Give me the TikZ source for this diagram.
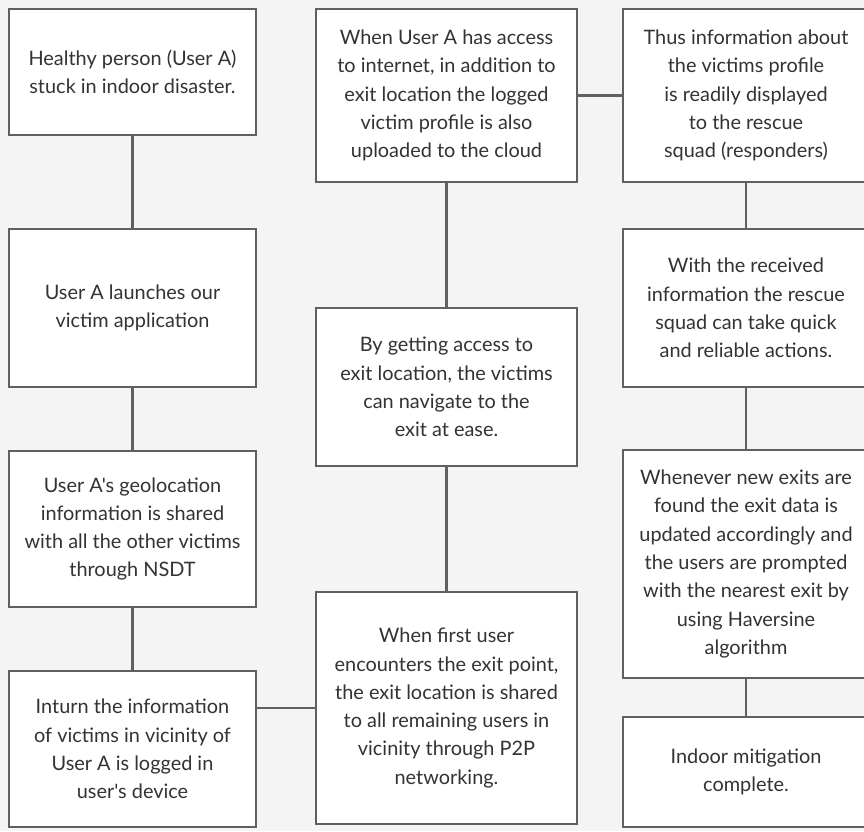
\documentclass[tikz,border=0pt]{standalone}
\usepackage{fontspec}
\setmainfont{Lato}[Ligatures=TeXOff]
\definecolor{bgc}{HTML}{F4F4F4}
\definecolor{edge}{HTML}{606060}
\definecolor{txt}{HTML}{333333}
\begin{document}
\begin{tikzpicture}[x=1pt,y=-1pt,
  box/.style={draw=edge, line width=2.2pt, fill=white, rectangle, inner sep=0pt, outer sep=0pt,
    align=center, text=txt, font=\fontsize{19.9}{28.3}\selectfont},
  link/.style={draw=edge, line width=2.2pt}]
\useasboundingbox (0,0) rectangle (864,831);
\fill[bgc] (0,0) rectangle (864,831);
% column 1
\node[box, minimum width=247pt, minimum height=126pt] (c1a) at (132.5,72) {Healthy person (User A)\\stuck in indoor disaster.};
\node[box, minimum width=247pt, minimum height=158pt] (c1b) at (132.5,308) {User A launches our\\victim application};
\node[box, minimum width=247pt, minimum height=156pt] (c1c) at (132.5,529) {User A's geolocation\\information is shared\\with all the other victims\\through NSDT};
\node[box, minimum width=247pt, minimum height=156pt] (c1d) at (132.5,749) {Inturn the information\\of victims in vicinity of\\User A is logged in\\user's device};
% column 2
\node[box, minimum width=261pt, minimum height=173pt] (c2a) at (446.5,95.5) {When User A has access\\to internet, in addition to\\exit location the logged\\victim profile is also\\uploaded to the cloud};
\node[box, minimum width=261pt, minimum height=158pt] (c2b) at (446.5,387) {By getting access to\\exit location, the victims\\can navigate to the\\exit at ease.};
\node[box, minimum width=261pt, minimum height=232pt] (c2c) at (446.5,708) {When first user\\encounters the exit point,\\the exit location is shared\\to all remaining users in\\vicinity through P2P\\networking.};
% column 3
\node[box, minimum width=246pt, minimum height=173pt] (c3a) at (746,95.5) {Thus information about\\the victims profile\\is readily displayed\\to the rescue\\squad (responders)};
\node[box, minimum width=246pt, minimum height=158pt] (c3b) at (746,308) {With the received\\information the rescue\\squad can take quick\\and reliable actions.};
\node[box, minimum width=246pt, minimum height=228pt] (c3c) at (746,564) {Whenever new exits are\\found the exit data is\\updated accordingly and\\the users are prompted\\with the nearest exit by\\using Haversine\\algorithm};
\node[box, minimum width=246pt, minimum height=110pt] (c3d) at (746,772) {Indoor mitigation\\complete.};
% connectors
\draw[link] (c1a.south) -- (c1b.north);
\draw[link] (c1b.south) -- (c1c.north);
\draw[link] (c1c.south) -- (c1d.north);
\draw[link] (c1d.east |- c2c.west) -- (c2c.west);
\draw[link] (c2c.north) -- (c2b.south);
\draw[link] (c2b.north) -- (c2a.south);
\draw[link] (c2a.east) -- (c3a.west);
\draw[link] (c3a.south) -- (c3b.north);
\draw[link] (c3b.south) -- (c3c.north);
\draw[link] (c3c.south) -- (c3d.north);
\end{tikzpicture}
\end{document}
